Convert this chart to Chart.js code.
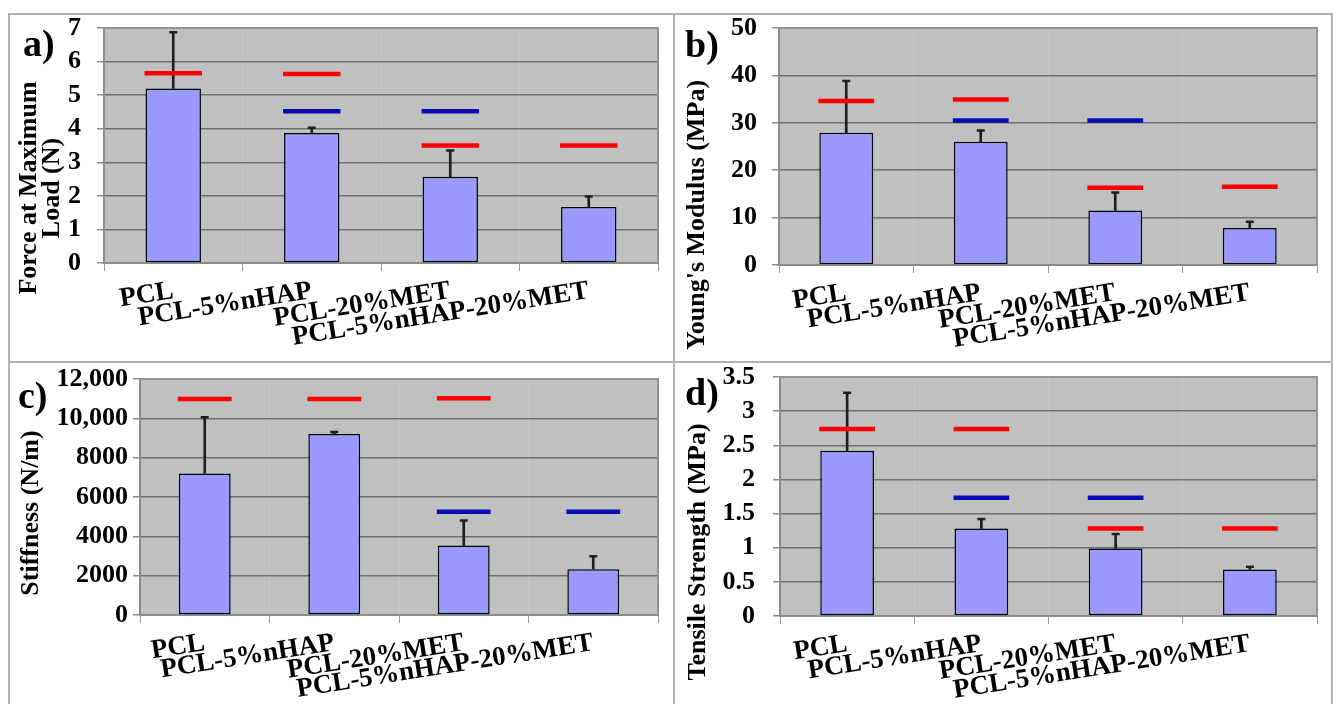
<!DOCTYPE html>
<html>
<head>
<meta charset="utf-8">
<title>PCL composites - mechanical properties</title>
<script src="https://cdn.jsdelivr.net/npm/chart.js@4.4.0/dist/chart.umd.min.js"></script>
<style>
  body { margin: 0; background: #fff; width: 1333px; height: 704px; overflow: hidden; position: relative; }
  .rule { position: absolute; background: #b4b4b4; }
  canvas { position: absolute; }
</style>
</head>
<body>
<div class="rule" style="left:8px;top:13px;width:1325px;height:2px"></div>
<div class="rule" style="left:8px;top:13px;width:2px;height:691px"></div>
<div class="rule" style="left:1331px;top:13px;width:2px;height:691px"></div>
<div class="rule" style="left:673px;top:13px;width:2px;height:691px"></div>
<div class="rule" style="left:8px;top:361px;width:1325px;height:2px"></div>

<canvas id="chartA" width="663" height="346" style="left:10px;top:15px"></canvas>
<canvas id="chartB" width="656" height="346" style="left:675px;top:15px"></canvas>
<canvas id="chartC" width="663" height="341" style="left:10px;top:363px"></canvas>
<canvas id="chartD" width="656" height="341" style="left:675px;top:363px"></canvas>

<script>
const categories = ['PCL', 'PCL-5%nHAP', 'PCL-20%MET', 'PCL-5%nHAP-20%MET'];

// a) Force at maximum load (N)
const forceMeans = [5.2, 3.87, 2.57, 1.67];
const forceErrors = [1.67, 0.16, 0.78, 0.31];
const forceRedMarks = [5.65, 5.63, 3.5, 3.5];
const forceBlueMarks = [null, 4.52, 4.52, null];
const forceTickLabels = ['0', '1', '2', '3', '4', '5', '6', '7'];

// b) Young's modulus (MPa)
const modulusMeans = [27.9, 26.0, 11.5, 7.8];
const modulusErrors = [10.9, 2.4, 3.8, 1.3];
const modulusRedMarks = [34.6, 34.9, 16.3, 16.5];
const modulusBlueMarks = [null, 30.5, 30.5, null];
const modulusTickLabels = ['0', '10', '20', '30', '40', '50'];

// c) Stiffness (N/m)
const stiffnessMeans = [7200, 9200, 3530, 2330];
const stiffnessErrors = [2850, 110, 1270, 660];
const stiffnessRedMarks = [10980, 10980, 11020, null];
const stiffnessBlueMarks = [null, null, 5250, 5250];
const stiffnessTickLabels = ['0', '2000', '4000', '6000', '8000', '10,000', '12,000'];

// d) Tensile strength (MPa)
const strengthMeans = [2.42, 1.28, 0.99, 0.68];
const strengthErrors = [0.85, 0.14, 0.21, 0.04];
const strengthRedMarks = [2.74, 2.74, 1.28, 1.28];
const strengthBlueMarks = [null, 1.73, 1.73, null];
const strengthTickLabels = ['0', '0.5', '1', '1.5', '2', '2.5', '3', '3.5'];

const FONT = '"Liberation Serif", "Times New Roman", serif';
const BAR_FRACTION = 0.4;

// grey plot area, frame, panel letter and rotated axis title
const panelDecor = {
    id: 'panelDecor',
    beforeDraw(chart) {
        const { ctx, chartArea: a } = chart;
        ctx.save();
        ctx.fillStyle = '#c0c0c0';
        ctx.fillRect(a.left, a.top, a.right - a.left, a.bottom - a.top);
        ctx.restore();
    },
    beforeDatasetsDraw(chart) {
        const { ctx, chartArea: a } = chart;
        ctx.save();
        ctx.strokeStyle = '#949494';
        ctx.lineWidth = 2;
        ctx.beginPath();
        ctx.moveTo(a.left, a.top);
        ctx.lineTo(a.right, a.top);
        ctx.lineTo(a.right, a.bottom);
        ctx.stroke();
        ctx.restore();
    },
    afterDraw(chart, args, opts) {
        const ctx = chart.ctx;
        ctx.save();
        ctx.fillStyle = '#000';
        ctx.textBaseline = 'alphabetic';
        ctx.textAlign = 'left';
        ctx.font = 'bold 38px ' + FONT;
        ctx.fillText(opts.letter, opts.letterX, opts.letterY);
        ctx.font = 'bold 26px ' + FONT;
        ctx.textAlign = 'center';
        opts.title.forEach((line, i) => {
            ctx.save();
            ctx.translate(opts.titleX[i], opts.titleY);
            ctx.rotate(-Math.PI / 2);
            ctx.fillText(line, 0, 0);
            ctx.restore();
        });
        ctx.restore();
    }
};

function drawPanel(id, p) {
    const ctx = document.getElementById(id).getContext('2d');
    const tops = p.means.map((m, i) => m + p.errors[i]);
    const markRadius = c => c.chart.scales.x.width / categories.length * BAR_FRACTION / 2 + 1;
    const marks = (values, color) => ({
        type: 'line',
        data: values,
        showLine: false,
        order: 1,
        pointStyle: 'line',
        pointRadius: markRadius,
        pointBorderWidth: 4.5,
        pointBorderColor: color,
        pointBackgroundColor: color
    });

    new Chart(ctx, {
        type: 'bar',
        data: {
            labels: categories,
            datasets: [
                marks(p.red, '#ff0000'),
                marks(p.blue, '#0a0ab4'),
                {
                    // error bar cap
                    type: 'line',
                    data: tops,
                    showLine: false,
                    order: 2,
                    pointStyle: 'line',
                    pointRadius: 4,
                    pointBorderWidth: 2.5,
                    pointBorderColor: '#1e1e1e'
                },
                {
                    // error bar stem
                    type: 'bar',
                    data: p.means.map((m, i) => [m, tops[i]]),
                    order: 3,
                    grouped: false,
                    barThickness: 2,
                    backgroundColor: '#1e1e1e',
                    borderWidth: 0
                },
                {
                    type: 'bar',
                    data: p.means,
                    order: 4,
                    grouped: false,
                    barPercentage: BAR_FRACTION,
                    categoryPercentage: 1,
                    backgroundColor: '#9999ff',
                    borderColor: '#000',
                    borderWidth: 1.5,
                    borderSkipped: false
                }
            ]
        },
        options: {
            responsive: false,
            animation: false,
            events: [],
            layout: { padding: { left: 0, top: p.plot.top, right: p.plot.right, bottom: 0 } },
            plugins: {
                legend: { display: false },
                tooltip: { enabled: false },
                panelDecor: p.decor
            },
            scales: {
                x: {
                    offset: true,
                    grid: { offset: true, color: '#c7c7c7', lineWidth: 1, tickLength: 8, tickColor: '#999' },
                    border: { color: '#8c8c8c', width: 2 },
                    ticks: {
                        autoSkip: false,
                        minRotation: 9,
                        maxRotation: 9,
                        padding: 4,
                        color: '#000',
                        font: { family: FONT, size: 27, weight: 'bold', lineHeight: 1.2 }
                    },
                    afterFit: s => { s.height = p.plot.axisHeight; s.paddingLeft = 0; s.paddingRight = 0; }
                },
                y: {
                    min: 0,
                    max: p.max,
                    grid: {
                        color: c => c.index === p.tickLabels.length - 1 ? '#949494' : '#6e6e6e',
                        lineWidth: 1.5,
                        tickLength: 7,
                        tickColor: '#8c8c8c'
                    },
                    border: { color: '#8c8c8c', width: 2 },
                    ticks: {
                        autoSkip: false,
                        stepSize: p.step,
                        padding: p.plot.labelGap,
                        color: '#000',
                        font: { family: FONT, size: 26, weight: 'bold', lineHeight: 1 },
                        callback: (v, i) => p.tickLabels[i]
                    },
                    afterFit: s => { s.width = p.plot.left; s.paddingTop = 0; s.paddingBottom = 0; }
                }
            }
        },
        plugins: [panelDecor]
    });
}

function initializeCharts() {
    drawPanel('chartA', {
        means: forceMeans, errors: forceErrors, red: forceRedMarks, blue: forceBlueMarks,
        tickLabels: forceTickLabels, max: 7, step: 1,
        plot: { left: 94, top: 13, right: 15, axisHeight: 98, labelGap: 16 },
        decor: { letter: 'a)', letterX: 13, letterY: 41, title: ['Force at Maximum', 'Load (N)'], titleX: [26, 49], titleY: 173 }
    });
    drawPanel('chartB', {
        means: modulusMeans, errors: modulusErrors, red: modulusRedMarks, blue: modulusBlueMarks,
        tickLabels: modulusTickLabels, max: 50, step: 10,
        plot: { left: 104, top: 13, right: 14, axisHeight: 96, labelGap: 15 },
        decor: { letter: 'b)', letterX: 10, letterY: 42, title: ["Young's Modulus (MPa)"], titleX: [29], titleY: 200 }
    });
    drawPanel('chartC', {
        means: stiffnessMeans, errors: stiffnessErrors, red: stiffnessRedMarks, blue: stiffnessBlueMarks,
        tickLabels: stiffnessTickLabels, max: 12000, step: 2000,
        plot: { left: 130, top: 16, right: 15, axisHeight: 89, labelGap: 5 },
        decor: { letter: 'c)', letterX: 8, letterY: 45, title: ['Stiffness (N/m)'], titleX: [28], titleY: 150 }
    });
    drawPanel('chartD', {
        means: strengthMeans, errors: strengthErrors, red: strengthRedMarks, blue: strengthBlueMarks,
        tickLabels: strengthTickLabels, max: 3.5, step: 0.5,
        plot: { left: 105, top: 14, right: 14, axisHeight: 88, labelGap: 18 },
        decor: { letter: 'd)', letterX: 10, letterY: 42, title: ['Tensile Strength (MPa)'], titleX: [30], titleY: 189 }
    });
}

if (document.readyState === 'loading') {
    document.addEventListener('DOMContentLoaded', initializeCharts);
} else {
    initializeCharts();
}
</script>
</body>
</html>
